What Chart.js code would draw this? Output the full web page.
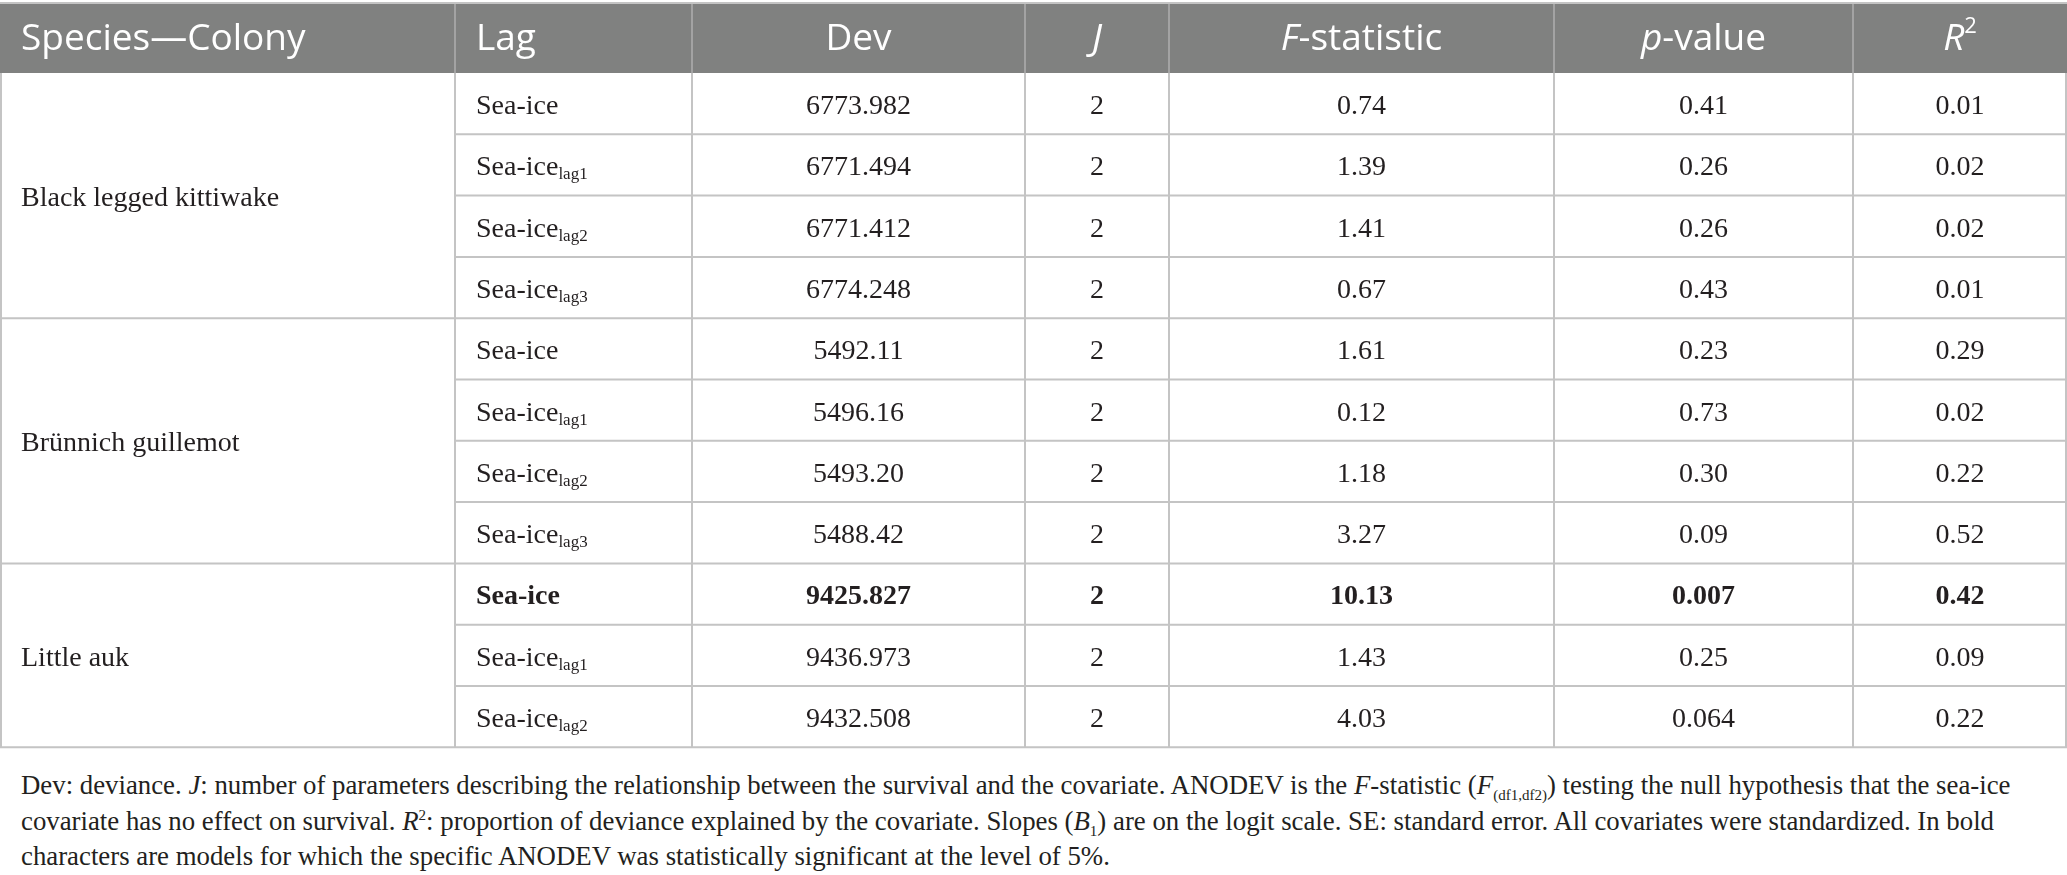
<!DOCTYPE html>
<html>
<head>
<meta charset="utf-8">
<script src="https://cdn.jsdelivr.net/npm/chart.js@4.4.1/dist/chart.umd.min.js"></script>
<style>
  html, body { margin: 0; padding: 0; background: #fff; }
  #wrap { position: relative; width: 2067px; height: 750px; }
  #note {
    position: absolute; left: 21px; top: 768px; width: 2040px;
    font-family: "Liberation Serif", serif; font-size: 26.8px; line-height: 35.5px;
    color: #231f20; white-space: nowrap;
  }
  #note sub, #note sup { font-size: 15px; line-height: 0; }
</style>
</head>
<body>
<div id="wrap"><canvas id="tbl"></canvas></div>
<div id="note">
  Dev: deviance. <i>J</i>: number of parameters describing the relationship between the survival and the covariate. ANODEV is the <i>F</i>-statistic (<i>F</i><sub>(df1,df2)</sub>) testing the null hypothesis that the sea-ice<br>
  covariate has no effect on survival. <i>R</i><sup>2</sup>: proportion of deviance explained by the covariate. Slopes (<i>B</i><sub>1</sub>) are on the logit scale. SE: standard error. All covariates were standardized. In bold<br>
  characters are models for which the specific ANODEV was statistically significant at the level of 5%.
</div>
<script>
// --- table data ---
const headers = ["Species—Colony", "Lag", "Dev", "J", "F-statistic", "p-value", "R2"];
const speciesNames = ["Black legged kittiwake", "Brünnich guillemot", "Little auk"];
const speciesRows = [4, 4, 3];
const lagSubs = ["", "lag1", "lag2", "lag3", "", "lag1", "lag2", "lag3", "", "lag1", "lag2"];
const devValues = ["6773.982", "6771.494", "6771.412", "6774.248", "5492.11", "5496.16", "5493.20", "5488.42", "9425.827", "9436.973", "9432.508"];
const jValues = ["2", "2", "2", "2", "2", "2", "2", "2", "2", "2", "2"];
const fValues = ["0.74", "1.39", "1.41", "0.67", "1.61", "0.12", "1.18", "3.27", "10.13", "1.43", "4.03"];
const pValues = ["0.41", "0.26", "0.26", "0.43", "0.23", "0.73", "0.30", "0.09", "0.007", "0.25", "0.064"];
const r2Values = ["0.01", "0.02", "0.02", "0.01", "0.29", "0.02", "0.22", "0.52", "0.42", "0.09", "0.22"];
const boldRows = [8];

// --- layout (column widths in px units, rows in row units) ---
const colWidths = [455, 237, 333, 144, 385, 299, 214];
const ROW_PX = 61.3, HEAD_PX = 69, TOP_PX = 4;
const nRows = lagSubs.length;
const colEdges = [0];
colWidths.forEach(w => colEdges.push(colEdges[colEdges.length - 1] + w));

const SANS = '"Open Sans", "Noto Sans", sans-serif';
const SERIF = '"Liberation Serif", serif';

// draw a list of text runs [{t, font, dy}] starting/centred at x
function drawRuns(ctx, runs, x, y, align) {
    let total = 0;
    runs.forEach(r => { ctx.font = r.font; r.w = ctx.measureText(r.t).width; total += r.w; });
    let cx = align === "center" ? x - total / 2 : x;
    runs.forEach(r => {
        ctx.font = r.font;
        ctx.fillText(r.t, cx, y + (r.dy || 0));
        cx += r.w;
    });
}

function headerRuns(label) {
    const f = "37px " + SANS, fi = "italic 37px " + SANS;
    if (label === "J") return [{ t: "J", font: fi }];
    if (label === "F-statistic") return [{ t: "F", font: fi }, { t: "-statistic", font: f }];
    if (label === "p-value") return [{ t: "p", font: fi }, { t: "-value", font: f }];
    if (label === "R2") return [{ t: "R", font: fi }, { t: "2", font: "22px " + SANS, dy: -13 }];
    return [{ t: label, font: f }];
}

const tablePlugin = {
    id: "tablePlugin",
    afterDraw(chart) {
        const ctx = chart.ctx;
        const xs = chart.scales.x, ys = chart.scales.y;
        const X = v => xs.getPixelForValue(v);
        const Y = v => ys.getPixelForValue(v);
        const headTop = -HEAD_PX / ROW_PX;
        ctx.save();

        // header band
        ctx.fillStyle = "#808180";
        ctx.fillRect(X(0), Y(headTop), X(colEdges[7]) - X(0), Y(0) - Y(headTop));
        ctx.strokeStyle = "#c4c4c4";
        ctx.lineWidth = 2;
        ctx.beginPath();
        ctx.moveTo(X(0), Y(headTop) - 1); ctx.lineTo(X(colEdges[7]), Y(headTop) - 1);
        ctx.stroke();
        ctx.strokeStyle = "#a3a3a3";
        ctx.beginPath();
        for (let c = 1; c < 7; c++) {
            ctx.moveTo(X(colEdges[c]), Y(headTop)); ctx.lineTo(X(colEdges[c]), Y(0));
        }
        ctx.stroke();

        // header labels
        ctx.fillStyle = "#ffffff";
        ctx.textBaseline = "middle";
        const hy = (Y(headTop) + Y(0)) / 2 + 1;
        headers.forEach((h, c) => {
            if (c < 2) drawRuns(ctx, headerRuns(h), X(colEdges[c]) + 21, hy, "left");
            else drawRuns(ctx, headerRuns(h), (X(colEdges[c]) + X(colEdges[c + 1])) / 2, hy, "center");
        });

        // body grid
        ctx.strokeStyle = "#c4c4c4";
        ctx.lineWidth = 2;
        ctx.beginPath();
        for (let r = 1; r <= nRows; r++) {
            ctx.moveTo(X(colEdges[1]), Y(r)); ctx.lineTo(X(colEdges[7]), Y(r));
        }
        let start = 0;
        speciesRows.forEach(n => {
            start += n;
            ctx.moveTo(X(0), Y(start)); ctx.lineTo(X(colEdges[7]), Y(start));
        });
        for (let c = 0; c <= 7; c++) {
            const px = c === 0 ? X(0) + 1 : c === 7 ? X(colEdges[7]) - 1 : X(colEdges[c]);
            ctx.moveTo(px, Y(0)); ctx.lineTo(px, Y(nRows));
        }
        ctx.stroke();

        // species names (spanning rows)
        ctx.fillStyle = "#231f20";
        let s0 = 0;
        speciesNames.forEach((name, i) => {
            const mid = (Y(s0) + Y(s0 + speciesRows[i])) / 2 + 3;
            drawRuns(ctx, [{ t: name, font: "28px " + SERIF }], X(0) + 21, mid, "left");
            s0 += speciesRows[i];
        });

        // rows
        const cols = [devValues, jValues, fValues, pValues, r2Values];
        for (let r = 0; r < nRows; r++) {
            const bold = boldRows.includes(r) ? "bold " : "";
            const f = bold + "28px " + SERIF;
            const cy = (Y(r) + Y(r + 1)) / 2 + 3;
            const lag = [{ t: "Sea-ice", font: f }];
            if (lagSubs[r]) lag.push({ t: lagSubs[r], font: bold + "17px " + SERIF, dy: 7 });
            drawRuns(ctx, lag, X(colEdges[1]) + 21, cy, "left");
            cols.forEach((arr, k) => {
                const c = k + 2;
                drawRuns(ctx, [{ t: arr[r], font: f }], (X(colEdges[c]) + X(colEdges[c + 1])) / 2, cy, "center");
            });
        }
        ctx.restore();
    }
};

new Chart(document.getElementById("tbl"), {
    type: "scatter",
    data: { datasets: [] },
    options: {
        responsive: true,
        maintainAspectRatio: false,
        animation: false,
        layout: { padding: 0 },
        plugins: { legend: { display: false }, tooltip: { enabled: false } },
        scales: {
            x: { type: "linear", display: false, min: 0, max: colEdges[7] },
            y: {
                type: "linear", display: false, reverse: true,
                min: -(HEAD_PX + TOP_PX) / ROW_PX,
                max: nRows + (750 - TOP_PX - HEAD_PX - nRows * ROW_PX) / ROW_PX
            }
        }
    },
    plugins: [tablePlugin]
});
</script>
</body>
</html>
